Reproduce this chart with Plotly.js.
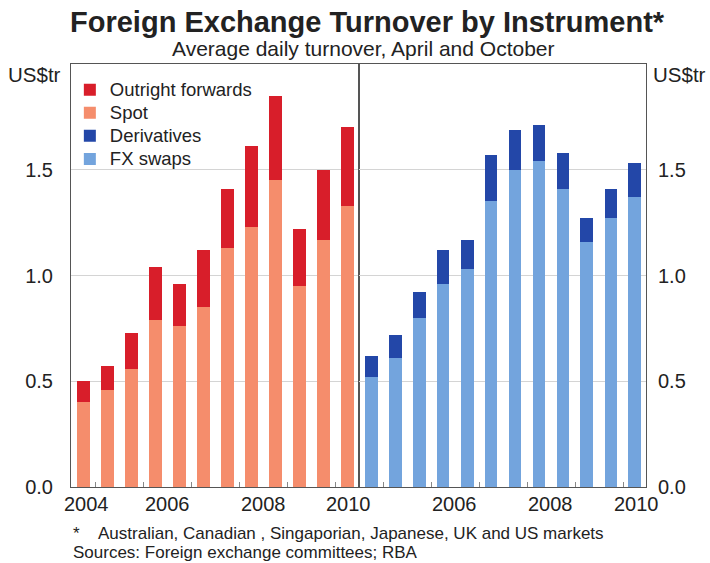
<!DOCTYPE html>
<html>
<head>
<meta charset="utf-8">
<script src="https://cdn.plot.ly/plotly-3.0.1.min.js"></script>
<style>
  html, body { margin: 0; padding: 0; background: #ffffff; }
  #chart { width: 710px; height: 563px; }
</style>
</head>
<body>
<div id="chart"></div>
<script>
// Survey dates (April and October)
const surveyDates = ['2004-10-01','2005-04-01','2005-10-01','2006-04-01','2006-10-01','2007-04-01',
                     '2007-10-01','2008-04-01','2008-10-01','2009-04-01','2009-10-01','2010-04-01'];
// US$ trillion, average daily turnover
const spot        = [0.40, 0.46, 0.56, 0.79, 0.76, 0.85, 1.13, 1.23, 1.45, 0.95, 1.17, 1.33];
const outrightFwd = [0.10, 0.11, 0.17, 0.25, 0.20, 0.27, 0.28, 0.38, 0.40, 0.27, 0.33, 0.37];
const fxSwaps     = [0.52, 0.61, 0.80, 0.96, 1.03, 1.35, 1.50, 1.54, 1.41, 1.16, 1.27, 1.37];
const derivatives = [0.10, 0.11, 0.12, 0.16, 0.14, 0.22, 0.19, 0.17, 0.17, 0.11, 0.14, 0.16];

// Series names
const seriesNames = ['Outright forwards', 'Spot', 'Derivatives', 'FX swaps'];

// Year-start tick marks and year labels
const yearStarts    = ['2005-01-01','2006-01-01','2007-01-01','2008-01-01','2009-01-01','2010-01-01'];
const leftLabelPos  = ['2004-10-25','2006-07-01','2008-07-01','2010-04-10'];
const leftLabels    = ['2004','2006','2008','2010'];
const rightLabelPos = ['2006-07-01','2008-07-01','2010-04-10'];
const rightLabels   = ['2006','2008','2010'];
const yTickVals = [0, 0.5, 1.0, 1.5];

const FONT = 'Liberation Sans, Arial, sans-serif';
const TXT = '#222';
const C_FWD = '#d81e2a', C_SPOT = '#f58d6c', C_DER = '#2347a8', C_SWAP = '#73a4dd';
const legendName = s => '<span style="font-size:18.5px">' + s + '</span>';

const traces = [
  {type:'bar', name:legendName(seriesNames[1]), x:surveyDates, y:spot, xaxis:'x', yaxis:'y',
   marker:{color:C_SPOT}, legendrank:2, hoverinfo:'skip'},
  {type:'bar', name:legendName(seriesNames[0]), x:surveyDates, y:outrightFwd, xaxis:'x', yaxis:'y',
   marker:{color:C_FWD}, legendrank:1, hoverinfo:'skip'},
  {type:'bar', name:legendName(seriesNames[3]), x:surveyDates, y:fxSwaps, xaxis:'x2', yaxis:'y2',
   marker:{color:C_SWAP}, legendrank:4, hoverinfo:'skip'},
  {type:'bar', name:legendName(seriesNames[2]), x:surveyDates, y:derivatives, xaxis:'x2', yaxis:'y2',
   marker:{color:C_DER}, legendrank:3, hoverinfo:'skip'}
];

const xRange = ['2004-06-26','2010-06-25'];
const xCommon = {
  type:'date', range:xRange, showline:true, mirror:true, linecolor:'#555', linewidth:1,
  showgrid:false, zeroline:false, tickmode:'array', tickvals:yearStarts,
  ticks:'inside', ticklen:5, tickwidth:1, tickcolor:'#888', showticklabels:false
};
const yCommon = {
  range:[0, 2.0], tickmode:'array', tickvals:yTickVals, tickformat:'.1f',
  showline:true, mirror:true, linecolor:'#555', linewidth:1,
  showgrid:true, gridcolor:'#d4d4d4', gridwidth:1, zeroline:false, ticks:'',
  tickfont:{family:FONT, size:20, color:TXT}
};

const annotations = [
  {text:'Average daily turnover, April and October', xref:'paper', yref:'paper', x:0.508, y:1,
   xanchor:'center', yanchor:'bottom', yshift:2, showarrow:false, font:{family:FONT, size:21, color:TXT}},
  {text:'US$tr', xref:'paper', yref:'paper', x:0, y:1, xanchor:'right', yanchor:'top', xshift:-8, yshift:3,
   showarrow:false, font:{family:FONT, size:20.5, color:TXT}},
  {text:'US$tr', xref:'paper', yref:'paper', x:1, y:1, xanchor:'left', yanchor:'top', xshift:5, yshift:3,
   showarrow:false, font:{family:FONT, size:20.5, color:TXT}},
  {text:'*', xref:'paper', yref:'paper', x:0, y:0, xanchor:'left', yanchor:'top', xshift:0, yshift:-35,
   showarrow:false, font:{family:FONT, size:17, color:TXT}},
  {text:'Australian, Canadian , Singaporian, Japanese, UK and US markets', xref:'paper', yref:'paper',
   x:0, y:0, xanchor:'left', yanchor:'top', xshift:25, yshift:-35,
   showarrow:false, font:{family:FONT, size:17, color:TXT}},
  {text:'Sources: Foreign exchange committees; RBA', xref:'paper', yref:'paper',
   x:0, y:0, xanchor:'left', yanchor:'top', xshift:0, yshift:-54,
   showarrow:false, font:{family:FONT, size:17, color:TXT}}
];
leftLabelPos.forEach((d, i) => annotations.push({
  text:leftLabels[i], xref:'x', yref:'paper', x:d, y:0, xanchor:'center', yanchor:'top', yshift:-4,
  showarrow:false, font:{family:FONT, size:20, color:TXT}}));
rightLabelPos.forEach((d, i) => annotations.push({
  text:rightLabels[i], xref:'x2', yref:'paper', x:d, y:0, xanchor:'center', yanchor:'top', yshift:-4,
  showarrow:false, font:{family:FONT, size:20, color:TXT}}));

const layout = {
  width:710, height:563,
  margin:{l:71, r:64, t:64, b:76},
  paper_bgcolor:'#ffffff', plot_bgcolor:'#ffffff',
  barmode:'stack', bargap:0.46,
  showlegend:true,
  font:{family:FONT, color:TXT},
  title:{text:'<b>Foreign Exchange Turnover by Instrument*</b>', x:0.517, xanchor:'center',
         y:0.962, yanchor:'middle', font:{family:FONT, size:29, color:TXT}},
  legend:{x:-0.002, xanchor:'left', y:0.978, yanchor:'top', bgcolor:'rgba(0,0,0,0)',
          font:{family:FONT, size:15.4, color:TXT}, traceorder:'normal', tracegroupgap:0},
  xaxis:Object.assign({}, xCommon, {domain:[0, 0.5], anchor:'y'}),
  xaxis2:Object.assign({}, xCommon, {domain:[0.5, 1], anchor:'y2'}),
  yaxis:Object.assign({}, yCommon, {anchor:'x', side:'left', ticklabelstandoff:13}),
  yaxis2:Object.assign({}, yCommon, {anchor:'x2', side:'right', ticklabelstandoff:7}),
  annotations:annotations
};

Plotly.newPlot('chart', traces, layout, {staticPlot:true, displayModeBar:false});
</script>
</body>
</html>
